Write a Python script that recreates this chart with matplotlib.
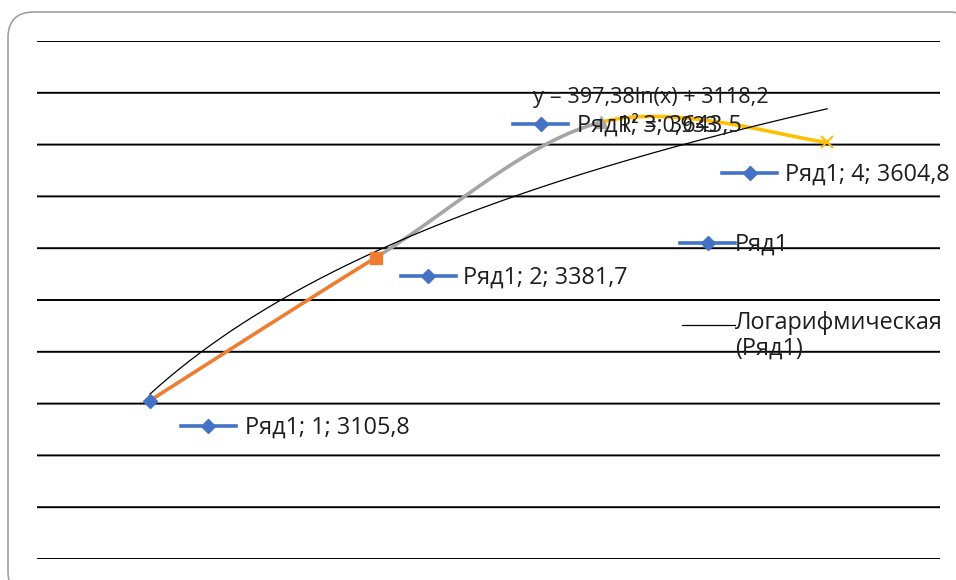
import numpy as np
import matplotlib
matplotlib.use("Agg")
import matplotlib.pyplot as plt
import matplotlib.transforms as mtransforms
from matplotlib.patches import FancyBboxPatch

plt.rcParams['font.family'] = ['Open Sans', 'DejaVu Sans']

# series data
series_name = "Ряд1"
x_vals = [1, 2, 3, 4]
y_vals = [3105.8, 3381.7, 3643.5, 3604.8]
point_colors = ["#4472C4", "#ED7D31", "#A5A5A5", "#FFC000"]
point_markers = ["D", "s", "^", "x"]

# logarithmic trendline as reported on the chart
trend_a = 397.38
trend_b = 3118.2
trend_r2 = "0,933"
trend_label = "Логарифмическая\n(Ряд1)"

y_min, y_max, y_step = 2800, 3800, 100

# data label placements (pixel offsets from each point): key start, key end, dy, text dx
label_offsets = [(31, 86, -25, 95), (25, 80, -18, 87), (-88, -33, -2, -24), (-105, -50, -31, -42)]

FS = 16.8
FS_EQ = 15.6
BLUE = "#4472C4"
TXT = "#1E1E1E"


def fmt(v):
    return f"{v:.1f}".replace(".", ",")


def bezier(p0, c1, c2, p1, n=60):
    t = np.linspace(0, 1, n)[:, None]
    return ((1 - t) ** 3 * p0 + 3 * (1 - t) ** 2 * t * c1
            + 3 * (1 - t) * t ** 2 * c2 + t ** 3 * p1)


fig = plt.figure(figsize=(9.56, 5.8), dpi=100)

# rounded chart frame, running off the right and bottom edges
frame = FancyBboxPatch((8 / 956, -0.03), (975 - 8) / 956, 1 - 12 / 580 + 0.03,
                       boxstyle="round,pad=0,rounding_size=0.027",
                       transform=fig.transFigure, facecolor="white", edgecolor="#A0A0A0",
                       linewidth=1.2, mutation_aspect=956 / 580, zorder=-1)
fig.patches.append(frame)

ax = fig.add_axes([37 / 956, 21 / 580, 903 / 956, 518 / 580])
ax.set_xlim(0.5, 4.5)
ax.set_ylim(y_min, y_max)
ax.set_axis_off()

for g in np.arange(y_min, y_max + 1, y_step):
    ax.axhline(g, color="black", lw=1.4, snap=False, zorder=1)

# smoothed series line, one colour per segment
pts = np.column_stack([x_vals, y_vals]).astype(float)
n = len(pts)
for i in range(n - 1):
    prev = pts[max(i - 1, 0)]
    nxt = pts[min(i + 2, n - 1)]
    c1 = pts[i] + (pts[i + 1] - prev) / 6
    c2 = pts[i + 1] - (nxt - pts[i]) / 6
    seg = bezier(pts[i], c1, c2, pts[i + 1])
    ax.plot(seg[:, 0], seg[:, 1], color=point_colors[i + 1], lw=2.6,
            solid_capstyle="round", zorder=3)

for x, y, c, m in zip(x_vals, y_vals, point_colors, point_markers):
    if m == "x":
        ax.plot(x, y, marker=m, color=c, ms=8, mew=1.5, zorder=4)
    else:
        ax.plot(x, y, marker=m, color=c, ms=8 if m != "D" else 7, zorder=4)

# trendline
tx = np.linspace(x_vals[0], x_vals[-1], 200)
ax.plot(tx, trend_a * np.log(tx) + trend_b, color="black", lw=0.9, zorder=3)

# data labels with legend keys
for x, y, (k0, k1, dy, tdx) in zip(x_vals, y_vals, label_offsets):
    tr0 = mtransforms.offset_copy(ax.transData, fig, x=k0, y=dy, units="dots")
    tr1 = mtransforms.offset_copy(ax.transData, fig, x=k1, y=dy, units="dots")
    p0 = tr0.transform((x, y))
    p1 = tr1.transform((x, y))
    xs, ys = zip(*ax.transData.inverted().transform([p0, p1]))
    ax.plot(xs, ys, color=BLUE, lw=2.6, zorder=5)
    ax.plot(np.mean(xs), ys[0], marker="D", color=BLUE, ms=7, zorder=5)
    trt = mtransforms.offset_copy(ax.transData, fig, x=tdx, y=dy - 2, units="dots")
    ax.text(x, y, f"{series_name}; {x}; {fmt(y)}", transform=trt, fontsize=FS,
            ha="left", va="center", color=TXT, zorder=6)

# trendline equation
eq = f"y = {trend_a:.2f}".replace(".", ",") + f"ln(x) + {fmt(trend_b)}"
ax.text((651 - 37) / 903, (559 - 97) / 518, eq, transform=ax.transAxes, fontsize=FS_EQ,
        ha="center", va="center", color=TXT, zorder=6)
ax.text((618 - 37) / 903, (559 - 126) / 518, f"R² = {trend_r2}", transform=ax.transAxes,
        fontsize=FS_EQ, ha="left", va="center", color=TXT, zorder=6)

# legend
ax.plot([(680 - 37) / 903, (735 - 37) / 903], [(559 - 243) / 518] * 2, color=BLUE, lw=2.6,
        transform=ax.transAxes, zorder=5)
ax.plot([(707.5 - 37) / 903], [(559 - 243) / 518], marker="D", color=BLUE, ms=7,
        transform=ax.transAxes, zorder=5)
ax.text((735 - 37) / 903, (559 - 245) / 518, series_name, transform=ax.transAxes,
        fontsize=FS, ha="left", va="center", color=TXT, zorder=6)
ax.plot([(682 - 37) / 903, (735 - 37) / 903], [(559 - 325) / 518] * 2, color="black", lw=0.9,
        transform=ax.transAxes, zorder=5)
ax.text((735 - 37) / 903, (559 - 311) / 518, trend_label, transform=ax.transAxes,
        fontsize=FS, ha="left", va="top", color=TXT, linespacing=1.1, zorder=6)

fig.savefig("out.png", dpi=100)
